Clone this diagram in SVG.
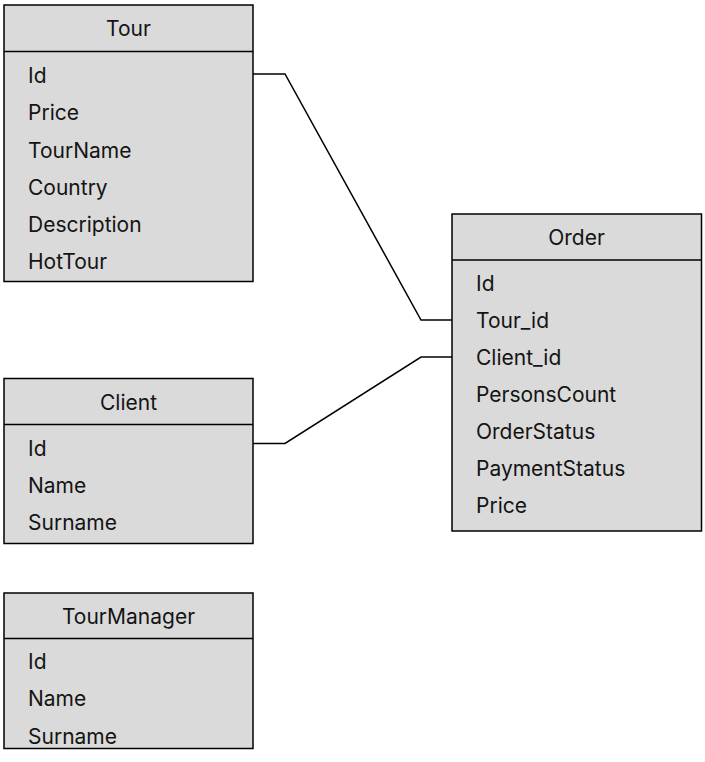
<svg xmlns="http://www.w3.org/2000/svg" width="705" height="762" viewBox="0 0 705 762">
<style>
.box{fill:#dadada;stroke:#000;stroke-width:1.5}
.div{stroke:#000;stroke-width:1.5}
.t{font-family:Inter,"Liberation Sans",sans-serif;font-size:21px;fill:#141414}
.h{text-anchor:middle}
.c{fill:none;stroke:#000;stroke-width:1.5}
</style>
<rect width="705" height="762" fill="#fff"/>
<g id="connectors">
<polyline class="c" points="253,74 285,74 421,320 452,320"/>
<polyline class="c" points="253,443.5 285,443.5 421,357 452,357"/>
</g>
<g id="tour">
<rect class="box" x="4" y="5" width="249" height="276.5"/>
<line class="div" x1="4" y1="51.5" x2="253" y2="51.5"/>
<text class="t h" x="128.5" y="36">Tour</text>
<text class="t" x="28" y="83.3">Id</text>
<text class="t" x="28" y="120.4">Price</text>
<text class="t" x="28" y="157.5">TourName</text>
<text class="t" x="28" y="194.6">Country</text>
<text class="t" x="28" y="231.7">Description</text>
<text class="t" x="28" y="268.8">HotTour</text>
</g>
<g id="order">
<rect class="box" x="452" y="214" width="249.5" height="317"/>
<line class="div" x1="452" y1="260" x2="701.5" y2="260"/>
<text class="t h" x="576.5" y="245">Order</text>
<text class="t" x="476" y="290.7">Id</text>
<text class="t" x="476" y="327.8">Tour_id</text>
<text class="t" x="476" y="364.9">Client_id</text>
<text class="t" x="476" y="402">PersonsCount</text>
<text class="t" x="476" y="439.1">OrderStatus</text>
<text class="t" x="476" y="476.2">PaymentStatus</text>
<text class="t" x="476" y="513.3">Price</text>
</g>
<g id="client">
<rect class="box" x="4" y="378.5" width="249" height="165"/>
<line class="div" x1="4" y1="424.5" x2="253" y2="424.5"/>
<text class="t h" x="128.5" y="410">Client</text>
<text class="t" x="28" y="455.7">Id</text>
<text class="t" x="28" y="492.8">Name</text>
<text class="t" x="28" y="529.9">Surname</text>
</g>
<g id="tourmanager">
<rect class="box" x="4" y="593" width="249" height="155.5"/>
<line class="div" x1="4" y1="638.5" x2="253" y2="638.5"/>
<text class="t h" x="128.5" y="624">TourManager</text>
<text class="t" x="28" y="669.3">Id</text>
<text class="t" x="28" y="706.4">Name</text>
<text class="t" x="28" y="743.5">Surname</text>
</g>
</svg>
